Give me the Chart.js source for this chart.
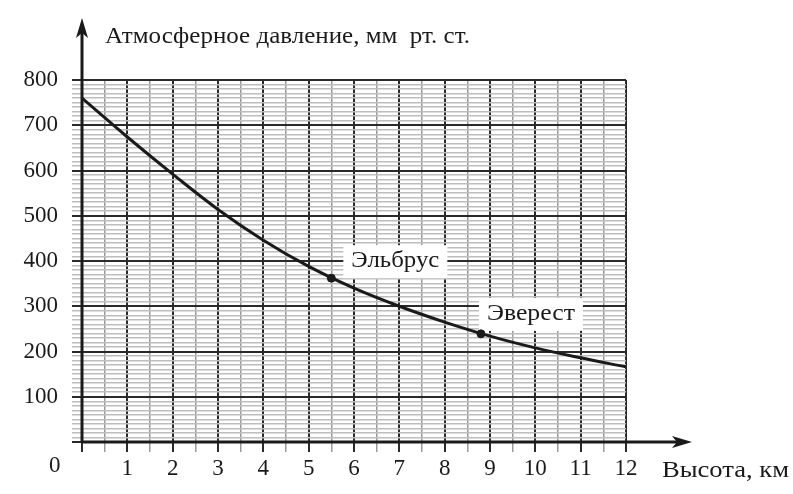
<!DOCTYPE html>
<html>
<head>
<meta charset="utf-8">
<script src="https://cdn.jsdelivr.net/npm/chart.js@4"></script>
<style>
  html, body { margin: 0; padding: 0; background: #fff; }
  #wrap { width: 793px; height: 494px; }
</style>
</head>
<body>
<div id="wrap"><canvas id="c" width="793" height="494"></canvas></div>
<script>
// heights in km and pressure
const heights = [0, 1, 2, 3, 4, 5, 6, 7, 8, 9, 10, 11, 12];
const pressures = [760, 674, 592, 514, 446, 388, 340, 300, 265, 234, 208, 186, 166];

// marked peaks
const peakNames = ['Эльбрус', 'Эверест'];
const peakHeights = [5.5, 8.8];
const peakPressures = [362, 239];

const yTitle = 'Атмосферное давление, мм  рт. ст.';
const xTitle = 'Высота, км';

const FONT = '"Liberation Serif", "Times New Roman", serif';
const INK = '#1a1a1a';

const curve = heights.map((h, i) => ({ x: h, y: pressures[i] }));
const peaks = peakHeights.map((h, i) => ({ x: h, y: peakPressures[i] }));

// the scan is a bit stretched sideways, so stretch text to the width seen
function wideText(ctx, text, x, y, width) {
  const w = ctx.measureText(text).width;
  ctx.save();
  ctx.translate(x, y);
  ctx.scale(width / w, 1);
  ctx.fillText(text, 0, 0);
  ctx.restore();
}

// white boxes with the peak names, axes arrows, titles
const decor = {
  id: 'decor',
  beforeDatasetsDraw(chart) {
    const { ctx, scales: { x, y } } = chart;
    ctx.save();
    ctx.font = '23px ' + FONT;
    ctx.textBaseline = 'middle';
    const offs = [[12, -17], [-2, -20]];
    peakNames.forEach((name, i) => {
      const px = x.getPixelForValue(peakHeights[i]) + offs[i][0];
      const py = y.getPixelForValue(peakPressures[i]) + offs[i][1];
      ctx.fillStyle = '#fff';
      ctx.fillRect(px, py - 16, 104, 33);
      ctx.fillStyle = INK;
      wideText(ctx, name, px + 8, py, 88);
    });
    ctx.restore();
  },
  afterDraw(chart) {
    const { ctx, chartArea: a } = chart;
    ctx.save();
    ctx.strokeStyle = INK;
    ctx.fillStyle = INK;
    ctx.lineWidth = 3;
    // y axis
    ctx.beginPath();
    ctx.moveTo(a.left, a.bottom + 1);
    ctx.lineTo(a.left, 28);
    ctx.stroke();
    ctx.beginPath();
    ctx.moveTo(a.left, 18);
    ctx.lineTo(a.left - 6, 38);
    ctx.lineTo(a.left, 33);
    ctx.lineTo(a.left + 6, 38);
    ctx.closePath();
    ctx.fill();
    // x axis
    ctx.beginPath();
    ctx.moveTo(a.left - 1, a.bottom);
    ctx.lineTo(680, a.bottom);
    ctx.stroke();
    ctx.beginPath();
    ctx.moveTo(692, a.bottom);
    ctx.lineTo(672, a.bottom - 6);
    ctx.lineTo(677, a.bottom);
    ctx.lineTo(672, a.bottom + 6);
    ctx.closePath();
    ctx.fill();
    // titles
    ctx.font = '23px ' + FONT;
    ctx.textBaseline = 'middle';
    ctx.textAlign = 'left';
    wideText(ctx, yTitle, 105, 37, 365);
    wideText(ctx, xTitle, 662, 471, 127);
    ctx.fillText('0', 49, 466);
    ctx.restore();
  }
};

new Chart(document.getElementById('c'), {
  type: 'scatter',
  data: {
    datasets: [
      {
        data: curve,
        showLine: true,
        borderColor: INK,
        borderWidth: 3,
        pointRadius: 0,
        tension: 0.4
      },
      {
        data: peaks,
        pointRadius: 4,
        pointBackgroundColor: INK,
        pointBorderColor: INK
      }
    ]
  },
  options: {
    responsive: false,
    animation: false,
    layout: { padding: { top: 80, right: 167, left: 0, bottom: 0 } },
    plugins: { legend: { display: false }, tooltip: { enabled: false } },
    scales: {
      x: {
        type: 'linear',
        min: 0,
        max: 12,
        afterFit: s => { s.height = 52; },
        border: { display: false },
        grid: {
          tickLength: 10,
          color: c => Number.isInteger(c.tick.value) ? '#2a2a2a' : '#9a9a9a',
          lineWidth: c => Number.isInteger(c.tick.value) ? 2 : 1.5
        },
        ticks: {
          stepSize: 0.5,
          autoSkip: false,
          maxRotation: 0,
          padding: 3,
          color: INK,
          font: { family: FONT, size: 23 },
          callback: v => (Number.isInteger(v) && v > 0) ? String(v) : ''
        }
      },
      y: {
        min: 0,
        max: 800,
        afterFit: s => { s.width = 82; },
        border: { display: false },
        grid: {
          tickLength: 10,
          color: c => c.tick.value % 100 === 0 ? '#2a2a2a' : '#bdbdbd',
          lineWidth: c => c.tick.value % 100 === 0 ? 2 : 1.5
        },
        ticks: {
          stepSize: 10,
          autoSkip: false,
          padding: 14,
          color: INK,
          font: { family: FONT, size: 23 },
          callback: v => (v % 100 === 0 && v > 0) ? String(v) : ''
        }
      }
    }
  },
  plugins: [decor]
});
</script>
</body>
</html>
